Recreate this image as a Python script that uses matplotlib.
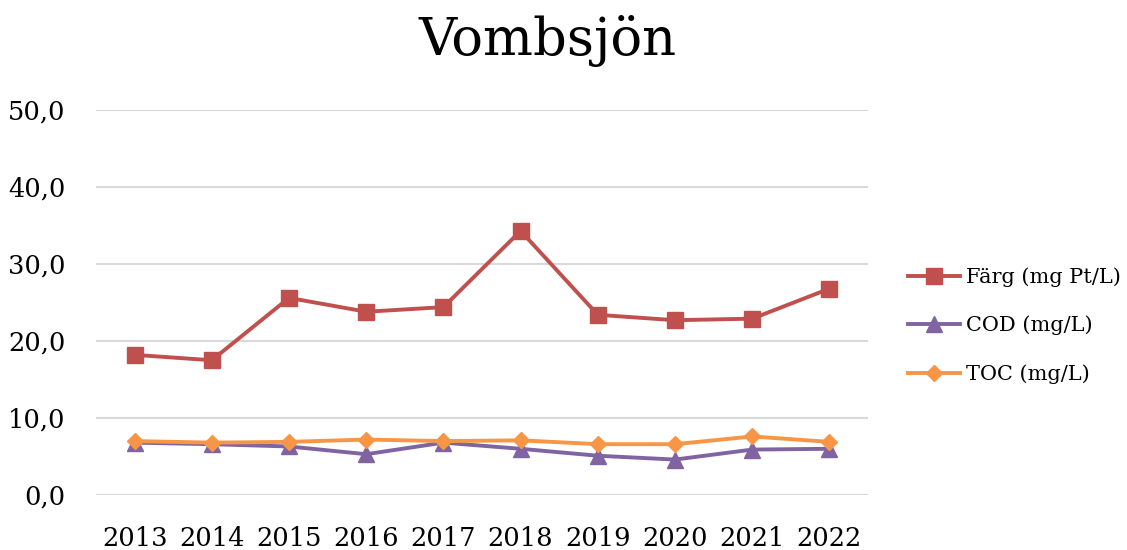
import matplotlib
matplotlib.use("Agg")
import matplotlib.pyplot as plt
from matplotlib.ticker import FuncFormatter

years = ["2013", "2014", "2015", "2016", "2017", "2018", "2019", "2020", "2021", "2022"]
farg = [18.2, 17.5, 25.6, 23.8, 24.4, 34.3, 23.4, 22.7, 22.9, 26.8]
cod = [6.8, 6.6, 6.3, 5.3, 6.8, 6.0, 5.1, 4.6, 5.9, 6.0]
toc = [7.0, 6.8, 6.9, 7.2, 7.0, 7.1, 6.6, 6.6, 7.6, 6.9]
yticks = [0, 10, 20, 30, 40, 50]

plt.rcParams['font.family'] = ['DejaVu Serif']

fig = plt.figure(figsize=(11.27, 5.50), dpi=100)
ax = fig.add_axes([0.0852, 0.1, 0.685, 0.70])

x = list(range(len(years)))
ax.plot(x, farg, color="#C0504D", lw=2.8, marker="s", ms=11, label="Färg (mg Pt/L)", zorder=3)
ax.plot(x, cod, color="#8064A2", lw=2.8, marker="^", ms=11, label="COD (mg/L)", zorder=3)
ax.plot(x, toc, color="#F79646", lw=2.8, marker="D", ms=8.5, label="TOC (mg/L)", zorder=4)

ax.set_xlim(-0.5, len(years) - 0.5)
ax.set_ylim(0, 50)
ax.set_yticks(yticks)
ax.yaxis.set_major_formatter(FuncFormatter(lambda v, p: f"{v:.1f}".replace(".", ",")))
ax.set_xticks(x)
ax.set_xticklabels(years)
ax.grid(axis="y", color="#D9D9D9", lw=1.5)
ax.set_axisbelow(True)
for s in ax.spines.values():
    s.set_visible(False)
ax.tick_params(axis="both", length=0, labelsize=18.5, colors="black")
ax.tick_params(axis="y", pad=22)
ax.tick_params(axis="x", pad=22)

fig.text(0.486, 0.925, "Vombsjön", ha="center", va="center", fontsize=38)

ax.legend(loc="center left", bbox_to_anchor=(1.028, 0.44), frameon=False,
          fontsize=15, handlelength=2.5, labelspacing=1.38, handletextpad=0.25)

fig.savefig("out.png", dpi=100)
